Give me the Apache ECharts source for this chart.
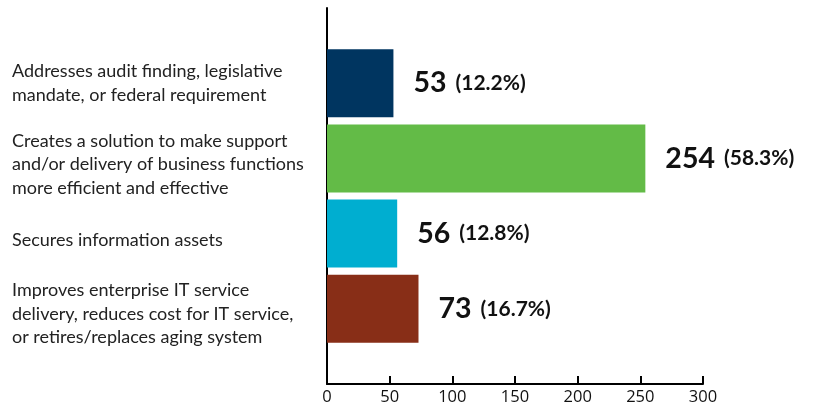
<!DOCTYPE html>
<html><head><meta charset="utf-8">
<script src="https://cdn.jsdelivr.net/npm/echarts@6/dist/echarts.min.js"></script>
<style>html,body{margin:0;padding:0;background:#fff}#c{width:823px;height:408px}</style>
</head><body><div id="c"></div>
<script>
const categories = [
  "",
  "Addresses audit finding, legislative\nmandate, or federal requirement",
  "Creates a solution to make support\nand/or delivery of business functions\nmore efficient and effective",
  "Secures information assets",
  "Improves enterprise IT service\ndelivery, reduces cost for IT service,\nor retires/replaces aging system",
  ""
];
const counts = [null, 53, 254, 56, 73, null];
const percents = ["", "12.2%", "58.3%", "12.8%", "16.7%", ""];
const colors = [null, "#003560", "#63BB47", "#00AED0", "#882E17", null];
const xTicks = [0, 300, 50];

const labelFont = {color: '#222', fontSize: 18, lineHeight: 23.5, fontFamily: 'Lato'};
const rich = {
  t: Object.assign({}, labelFont),
  g10: {fontSize: 1, lineHeight: 10},
  g12: {fontSize: 1, lineHeight: 12},
  g14: {fontSize: 1, lineHeight: 14}
};
const gapStyle = [null, null, 'g12', 'g14', 'g10', null];

const chart = echarts.init(document.getElementById('c'));
chart.setOption({
  animation: false,
  grid: {left: 327, right: 120, top: 8, bottom: 24, containLabel: false, outerBoundsMode: 'none'},
  xAxis: {
    type: 'value', min: xTicks[0], max: xTicks[1], interval: xTicks[2],
    axisLine: {show: true, lineStyle: {color: '#000', width: 2}},
    axisTick: {show: true, inside: true, length: 8, lineStyle: {color: '#000', width: 2}},
    axisLabel: {color: '#111', fontSize: 16.5, fontFamily: 'Open Sans', margin: 5},
    splitLine: {show: false}
  },
  yAxis: {
    type: 'category', inverse: true, boundaryGap: false, data: categories,
    axisLine: {show: true, lineStyle: {color: '#000', width: 2}},
    axisTick: {show: false},
    axisLabel: {
      align: 'left', margin: 315, interval: 0, color: '#222', fontSize: 18, lineHeight: 23.5, fontFamily: 'Lato',
      formatter: (val, idx) => {
        if (!val) return '';
        const body = val.split('\n').map(l => '{t|' + l + '}').join('\n');
        return gapStyle[idx] ? '{' + gapStyle[idx] + '| }\n' + body : body;
      },
      rich: rich
    }
  },
  series: [{
    type: 'bar', barWidth: 68,
    data: counts.map((v, i) => v == null ? null : {value: v, itemStyle: {color: colors[i]}}),
    label: {
      show: true, position: 'right', distance: 20,
      formatter: p => '{a|' + p.value + '}{b|(' + percents[p.dataIndex] + ')}',
      rich: {
        a: {fontSize: 28.5, fontWeight: 'bold', color: '#111', fontFamily: 'Lato'},
        b: {fontSize: 21, fontWeight: 'bold', color: '#111', fontFamily: 'Lato', padding: [0, 0, 0, 9]}
      }
    }
  }]
});
</script></body></html>
